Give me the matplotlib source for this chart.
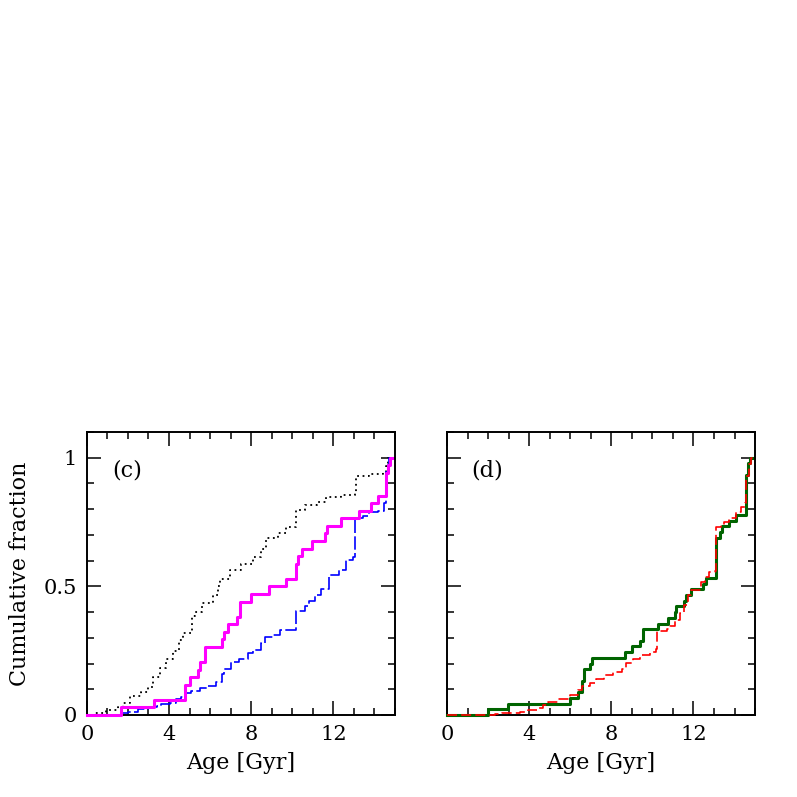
import numpy as np
import matplotlib
matplotlib.use("Agg")
import matplotlib.pyplot as plt
from matplotlib.ticker import MultipleLocator

plt.rcParams['font.family'] = ['DejaVu Serif']

# Panel (c): cumulative age distributions
age_dot = [0.0, 0.4, 0.95, 1.5, 1.75, 2.1, 2.65, 2.98, 3.22, 3.55, 3.87, 4.2, 4.5, 4.7,
           5.1, 5.25, 5.6, 6.14, 6.38, 6.46, 6.95, 7.52, 8.08, 8.5, 8.73, 9.3, 9.7,
           10.16, 10.19, 10.6, 11.2, 11.65, 12.37, 13.07, 13.1, 13.75, 14.4, 14.56,
           14.64, 14.85]
frac_dot = [0.0, 0.008, 0.02, 0.03, 0.045, 0.074, 0.09, 0.11, 0.148, 0.184, 0.219, 0.25,
            0.29, 0.32, 0.385, 0.4, 0.436, 0.468, 0.5, 0.527, 0.564, 0.588, 0.614, 0.645,
            0.688, 0.708, 0.73, 0.749, 0.798, 0.815, 0.83, 0.846, 0.857, 0.866, 0.93,
            0.937, 0.943, 0.969, 1.0, 1.0]

age_blue = [0.0, 1.72, 2.0, 2.49, 2.98, 3.4, 3.62, 4.03, 4.36, 4.6, 4.84, 5.09, 5.49, 5.9,
            6.3, 6.57, 6.7, 7.03, 7.43, 7.84, 8.08, 8.49, 8.68, 9.05, 9.38, 10.16, 10.19,
            10.6, 10.84, 11.12, 11.4, 11.8, 12.3, 12.62, 12.95, 13.07, 13.08, 13.43,
            13.75, 14.16, 14.48, 14.56, 14.66, 14.72, 14.95]
frac_blue = [0.0, 0.006, 0.013, 0.022, 0.03, 0.035, 0.041, 0.048, 0.061, 0.068, 0.084,
             0.094, 0.103, 0.112, 0.129, 0.161, 0.18, 0.205, 0.219, 0.241, 0.252, 0.28,
             0.303, 0.312, 0.331, 0.358, 0.404, 0.425, 0.445, 0.465, 0.49, 0.544, 0.562,
             0.601, 0.614, 0.633, 0.765, 0.775, 0.788, 0.795, 0.825, 0.943, 0.97, 1.0, 1.0]

age_mag = [0.0, 1.65, 3.27, 4.76, 5.0, 5.41, 5.49, 5.75, 6.57, 6.67, 6.87, 7.3, 7.45,
           7.97, 8.86, 9.68, 10.17, 10.3, 10.47, 10.98, 11.61, 11.69, 12.37, 13.26,
           13.83, 14.16, 14.56, 14.66, 14.75, 14.87]
count_mag = [0, 1, 2, 4, 5, 6, 7, 9, 10, 11, 12, 13, 15, 16, 17, 18, 20, 21, 22, 23, 24,
             25, 26, 27, 28, 29, 32, 33, 34, 34]
n_mag = 34

# Panel (d)
age_green = [0.0, 2.0, 2.95, 5.98, 6.38, 6.57, 6.69, 6.97, 7.08, 8.65, 9.02, 9.38, 9.54,
             10.27, 10.76, 11.08, 11.16, 11.55, 11.65, 11.89, 12.46, 12.62, 13.1, 13.27,
             13.4, 13.75, 14.08, 14.56, 14.67, 14.77, 14.87]
count_green = [0, 1, 2, 3, 4, 6, 8, 9, 10, 11, 12, 13, 15, 16, 17, 18, 19, 20, 21, 22, 23,
               24, 31, 32, 33, 34, 35, 42, 44, 45, 45]
n_green = 45

age_red = [0.0, 2.35, 2.66, 3.55, 3.95, 4.36, 4.68, 4.93, 5.41, 6.0, 6.38, 6.56, 6.95,
           7.27, 7.62, 8.08, 8.5, 8.7, 9.06, 9.38, 9.86, 10.19, 10.2, 10.7, 10.84, 11.08,
           11.32, 11.56, 11.73, 11.89, 12.38, 12.54, 12.78, 13.05, 13.1, 13.35, 13.51,
           13.75, 14.08, 14.32, 14.5, 14.56, 14.7, 14.82, 14.92]
frac_red = [0.0, 0.005, 0.009, 0.013, 0.019, 0.026, 0.039, 0.052, 0.064, 0.078, 0.096,
            0.114, 0.124, 0.14, 0.155, 0.166, 0.178, 0.203, 0.219, 0.233, 0.245, 0.258,
            0.327, 0.335, 0.345, 0.368, 0.397, 0.426, 0.465, 0.484, 0.517, 0.536, 0.555,
            0.56, 0.73, 0.738, 0.752, 0.767, 0.788, 0.808, 0.824, 0.93, 0.976, 1.0, 1.0]

fig = plt.figure(figsize=(7.97, 7.97), dpi=100)
ax_c = fig.add_axes([0.109, 0.1029, 0.3865, 0.355])
ax_d = fig.add_axes([0.5609, 0.1029, 0.3865, 0.355])

ax_c.step(age_dot, frac_dot, where='post', color='black', lw=1.3, ls=(0, (1.0, 2.0)),
          clip_on=False, zorder=3)
ax_c.step(age_blue, frac_blue, where='post', color='blue', lw=1.2, ls=(0, (8, 2)),
          clip_on=False, zorder=3)
ax_c.step(age_mag, np.array(count_mag) / n_mag, where='post', color='magenta', lw=2.2,
          clip_on=False, zorder=3)

ax_d.step(age_green, np.array(count_green) / n_green, where='post', color='#006400', lw=2.2,
          clip_on=False, zorder=3)
ax_d.step(age_red, frac_red, where='post', color='red', lw=1.2, ls=(0, (6, 2.5)),
          clip_on=False, zorder=3)

for ax, tag in [(ax_c, '(c)'), (ax_d, '(d)')]:
    ax.set_xlim(0, 15)
    ax.set_ylim(0, 1.1)
    ax.xaxis.set_major_locator(MultipleLocator(4))
    ax.xaxis.set_minor_locator(MultipleLocator(1))
    ax.yaxis.set_major_locator(MultipleLocator(0.5))
    ax.yaxis.set_minor_locator(MultipleLocator(0.1))
    ax.tick_params(which='both', direction='in', top=True, right=True, width=1.1,
                   labelsize=15, pad=7)
    ax.tick_params(which='major', length=10)
    ax.tick_params(which='minor', length=5)
    for s in ax.spines.values():
        s.set_linewidth(1.4)
    ax.set_xlabel('Age [Gyr]', fontsize=16, labelpad=6)
    ax.text(1.94, 0.95, tag, fontsize=16, ha='center', va='center')

ax_c.set_yticks([0, 0.5, 1])
ax_c.set_yticklabels(['0', '0.5', '1'])
ax_c.set_ylabel('Cumulative fraction', fontsize=16, labelpad=9)
ax_d.set_yticklabels([])

fig.savefig('out.png', dpi=100)
